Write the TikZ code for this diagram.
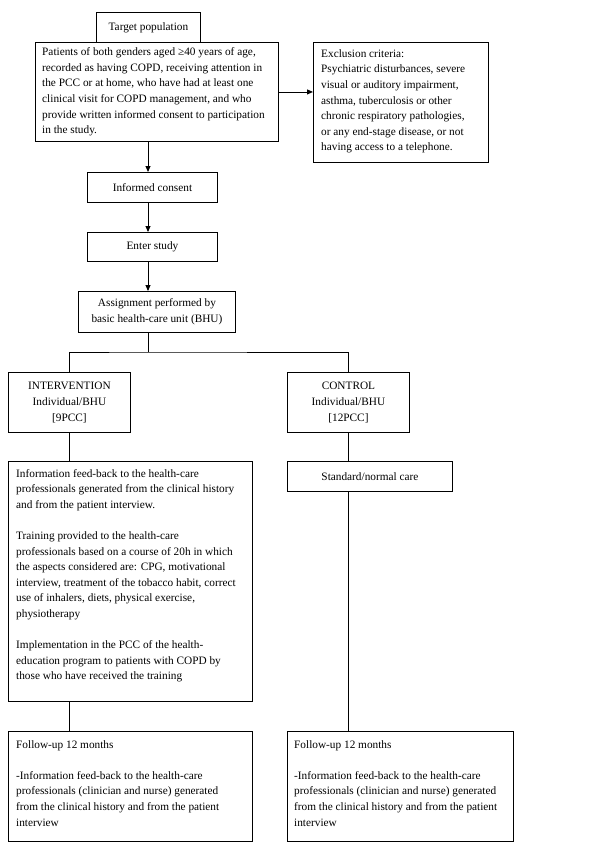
\documentclass[tikz,border=0pt]{standalone}
\usepackage{fontspec}
\setmainfont{Liberation Serif}
\usetikzlibrary{arrows.meta}
\newcommand{\fsz}{\fontsize{11.3}{15.6}\selectfont}
\begin{document}
\begin{tikzpicture}[x=1pt,y=-1pt,
  box/.style={draw, line width=0.9pt, anchor=north west, inner sep=0pt, font=\fsz},
  cbox/.style={box, align=center},
  txt/.style={anchor=north west, inner sep=0pt, align=left, font=\fsz},
  link/.style={line width=0.9pt},
  arr/.style={link, -{Triangle[length=6pt,width=5pt]}}]
\useasboundingbox (0,0) rectangle (600,855);
\coordinate (spine) at (148,0);
% boxes
\node[cbox, minimum width=104pt, minimum height=30pt] (target) at (96,12) {Target population};
\node[box, minimum width=243pt, minimum height=99pt] (patients) at (35,42) {};
\node[txt, anchor=west] (patientstxt) at ([xshift=7pt]patients.west)
 {Patients of both genders aged ≥40 years of age,\\
  recorded as having COPD, receiving attention in\\
  the PCC or at home, who have had at least one\\
  clinical visit for COPD management, and who\\
  provide written informed consent to participation\\
  in the study.};
\node[box, minimum width=175pt, minimum height=120pt] (excl) at (313,42) {};
\node[txt, anchor=west] (excltxt) at ([xshift=8pt,yshift=1pt]excl.west)
 {Exclusion criteria:\\
  Psychiatric disturbances, severe\\
  visual or auditory impairment,\\
  asthma, tuberculosis or other\\
  chronic respiratory pathologies,\\
  or any end-stage disease, or not\\
  having access to a telephone.};
\node[cbox, minimum width=130pt, minimum height=30pt] (consent) at (87,172) {Informed consent};
\node[cbox, minimum width=130pt, minimum height=29pt] (enter) at (87,232) {Enter study};
\node[cbox, minimum width=157pt, minimum height=41pt] (assign) at (78,291)
 {Assignment performed by\\basic health-care unit (BHU)};
\node[cbox, minimum width=122pt, minimum height=60pt] (interv) at (8,372)
 {INTERVENTION\\Individual/BHU\\{[9PCC]}};
\node[cbox, minimum width=122pt, minimum height=60pt] (control) at (287,372)
 {CONTROL\\Individual/BHU\\{[12PCC]}};
\node[box, minimum width=244pt, minimum height=240pt] (info) at (8,461) {};
\node[txt] (infotxt) at ([shift={(8,8)}]info.north west)
 {Information feed-back to the health-care\\
  professionals generated from the clinical history\\
  and from the patient interview.\\[15.6pt]
  Training provided to the health-care\\
  professionals based on a course of 20h in which\\
  the aspects considered are: CPG, motivational\\
  interview, treatment of the tobacco habit, correct\\
  use of inhalers, diets, physical exercise,\\
  physiotherapy\\[15.6pt]
  Implementation in the PCC of the health-\\
  education program to patients with COPD by\\
  those who have received the training};
\node[cbox, minimum width=165pt, minimum height=30pt] (standard) at (287,461) {Standard/normal care};
\node[box, minimum width=244pt, minimum height=110pt] (followL) at (8,731) {};
\node[txt] (followLtxt) at ([shift={(8,9)}]followL.north west)
 {Follow-up 12 months\\[15.6pt]
  -Information feed-back to the health-care\\
  professionals (clinician and nurse) generated\\
  from the clinical history and from the patient\\
  interview};
\node[box, minimum width=226pt, minimum height=110pt] (followR) at (287,731) {};
\node[txt] (followRtxt) at ([shift={(7,9)}]followR.north west)
 {Follow-up 12 months\\[15.6pt]
  -Information feed-back to the health-care\\
  professionals (clinician and nurse) generated\\
  from the clinical history and from the patient\\
  interview};
% connectors
\draw[arr] (patients.south -| spine) -- (consent.north -| spine);
\draw[arr] (patients.east) -- (patients.east -| excl.west);
\draw[arr] (consent.south -| spine) -- (enter.north -| spine);
\draw[arr] (enter.south -| spine) -- (assign.north -| spine);
\coordinate (split) at (148,352);
\draw[link] (assign.south -| spine) -- (split);
\draw[link] (interv.north) |- (split) -| (control.north);
\draw[link] (interv.south) -- (interv.south |- info.north);
\draw[link] (control.south) -- (control.south |- standard.north);
\draw[link] (standard.south -| control.south) -- (control.south |- followR.north);
\draw[link] (info.south -| interv.south) -- (interv.south |- followL.north);
\end{tikzpicture}
\end{document}
